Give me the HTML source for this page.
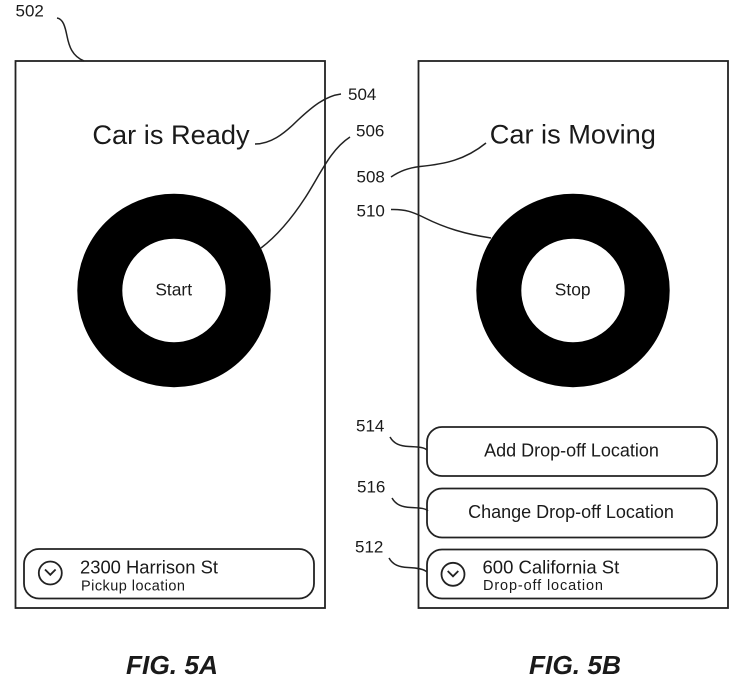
<!DOCTYPE html>
<html>
<head>
<meta charset="utf-8">
<style>
html,body{margin:0;padding:0;background:#fff;}
svg{display:block;filter:blur(.35px);}
text{font-family:"Liberation Sans",sans-serif;fill:#1a1a1a;}
</style>
</head>
<body>
<svg width="740" height="683" viewBox="0 0 740 683" xmlns="http://www.w3.org/2000/svg">
<rect width="740" height="683" fill="#fff"/>
<g fill="none" stroke="#222" stroke-width="1.8">
<rect x="15.5" y="61" width="309.5" height="547"/>
<rect x="418.5" y="61" width="309.5" height="547"/>
<rect x="24" y="549" width="290" height="49.5" rx="15"/>
<rect x="427" y="427" width="290" height="49" rx="15"/>
<rect x="427" y="488.5" width="290" height="49" rx="15"/>
<rect x="427" y="549.5" width="290" height="49" rx="15"/>
<circle cx="50.3" cy="573" r="11.5"/>
<circle cx="453" cy="574.3" r="11.5"/>
<path d="M45 569.5l5.3 5.3 5.3-5.3M447.7 571l5.3 5.3 5.3-5.3"/>
</g>
<g fill="none" stroke="#222" stroke-width="1.5">
<path d="M57 18C63 19 65 26 67 36C69 46 72 56 84 61"/>
<path d="M255 144C270 144 283 135 298 120C312 107 325 96 341 94"/>
<path d="M261 248C278 235 292 218 305 198C320 175 330 150 350 137"/>
<path d="M391 177C400 171 408 168 420 166.5C445 164 465 160 486 143"/>
<path d="M391 209.5C405 209 413 212 425 218C445 228 465 234 491 238"/>
<path d="M390 437C394 444 400 446 409 446.5C418 447 424 447 427 450"/>
<path d="M392 498C396 505 402 507 411 507.5C420 508 425 508 428 511"/>
<path d="M389 558C393 565 399 567 408 567.5C418 568 424 569 427 572"/>
</g>
<circle cx="174" cy="290.5" r="74.2" fill="none" stroke="#000" stroke-width="45"/>
<circle cx="573" cy="290.5" r="74.2" fill="none" stroke="#000" stroke-width="45"/>
<g font-size="17">
<text x="15.5" y="16.5">502</text>
<text x="348" y="100">504</text>
<text x="356" y="136.5">506</text>
<text x="356.5" y="182.5">508</text>
<text x="356.5" y="216.5">510</text>
<text x="356" y="431.5">514</text>
<text x="357" y="492.5">516</text>
<text x="355" y="552.5">512</text>
</g>
<text x="171" y="144" font-size="27.2" text-anchor="middle">Car is Ready</text>
<text x="572.8" y="143.5" font-size="27.2" text-anchor="middle">Car is Moving</text>
<text x="173.7" y="295.7" font-size="17.4" text-anchor="middle">Start</text>
<text x="572.7" y="295.7" font-size="17.4" text-anchor="middle">Stop</text>
<text x="571.5" y="456.7" font-size="18" text-anchor="middle">Add Drop-off Location</text>
<text x="571" y="518" font-size="18" text-anchor="middle">Change Drop-off Location</text>
<text x="80" y="573.3" font-size="18.4">2300 Harrison St</text>
<text x="81" y="590.7" font-size="14.5" textLength="104" lengthAdjust="spacing">Pickup location</text>
<text x="482.5" y="573.3" font-size="18.5">600 California St</text>
<text x="483" y="590" font-size="14.5" textLength="120" lengthAdjust="spacing">Drop-off location</text>
<g font-size="26.3" font-weight="bold" font-style="italic" text-anchor="middle">
<text x="172" y="674">FIG. 5A</text>
<text x="575" y="674">FIG. 5B</text>
</g>
</svg>
</body>
</html>
